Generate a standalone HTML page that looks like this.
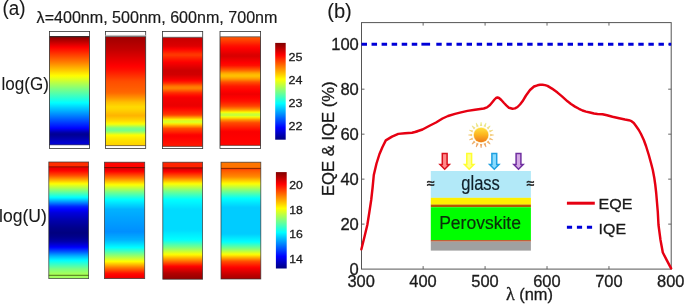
<!DOCTYPE html>
<html lang="en">
<head>
<meta charset="utf-8">
<title>Figure: generation rate, energy density and EQE/IQE</title>
<style>
html,body{margin:0;padding:0;background:#fff;}
body{width:685px;height:304px;overflow:hidden;}
svg{display:block;font-family:"Liberation Sans",sans-serif;}
</style>
</head>
<body>
<svg width="685" height="304" viewBox="0 0 685 304">
<defs>
<linearGradient id="g0" gradientUnits="userSpaceOnUse" x1="0" y1="36.60" x2="0" y2="144.80"><stop offset="0.0000" stop-color="#8a0000"/><stop offset="0.0139" stop-color="#960000"/><stop offset="0.0278" stop-color="#a60000"/><stop offset="0.0417" stop-color="#b70000"/><stop offset="0.0556" stop-color="#c80000"/><stop offset="0.0694" stop-color="#d90000"/><stop offset="0.0833" stop-color="#ea0000"/><stop offset="0.0972" stop-color="#fb0000"/><stop offset="0.1111" stop-color="#ff0a00"/><stop offset="0.1250" stop-color="#ff1600"/><stop offset="0.1389" stop-color="#ff2300"/><stop offset="0.1528" stop-color="#ff3000"/><stop offset="0.1667" stop-color="#ff3d00"/><stop offset="0.1806" stop-color="#ff4900"/><stop offset="0.1944" stop-color="#ff5600"/><stop offset="0.2083" stop-color="#ff6300"/><stop offset="0.2222" stop-color="#ff7000"/><stop offset="0.2361" stop-color="#ff7d00"/><stop offset="0.2500" stop-color="#ff8a00"/><stop offset="0.2639" stop-color="#ff9900"/><stop offset="0.2778" stop-color="#ffa700"/><stop offset="0.2917" stop-color="#ffb500"/><stop offset="0.3056" stop-color="#ffc300"/><stop offset="0.3194" stop-color="#ffd100"/><stop offset="0.3333" stop-color="#ffe000"/><stop offset="0.3472" stop-color="#ffee00"/><stop offset="0.3611" stop-color="#fffc00"/><stop offset="0.3750" stop-color="#f3ff0c"/><stop offset="0.3889" stop-color="#e4ff1b"/><stop offset="0.4028" stop-color="#d5ff2a"/><stop offset="0.4167" stop-color="#c5ff3a"/><stop offset="0.4306" stop-color="#b6ff49"/><stop offset="0.4444" stop-color="#a7ff58"/><stop offset="0.4583" stop-color="#98ff67"/><stop offset="0.4722" stop-color="#89ff76"/><stop offset="0.4861" stop-color="#7aff85"/><stop offset="0.5000" stop-color="#6dff92"/><stop offset="0.5139" stop-color="#5fffa0"/><stop offset="0.5278" stop-color="#52ffad"/><stop offset="0.5417" stop-color="#44ffbb"/><stop offset="0.5556" stop-color="#37ffc8"/><stop offset="0.5694" stop-color="#29ffd6"/><stop offset="0.5833" stop-color="#1cffe3"/><stop offset="0.5972" stop-color="#0efff1"/><stop offset="0.6111" stop-color="#01fffe"/><stop offset="0.6250" stop-color="#00f1ff"/><stop offset="0.6389" stop-color="#00e2ff"/><stop offset="0.6528" stop-color="#00d3ff"/><stop offset="0.6667" stop-color="#00c4ff"/><stop offset="0.6806" stop-color="#00b6ff"/><stop offset="0.6944" stop-color="#00a7ff"/><stop offset="0.7083" stop-color="#0098ff"/><stop offset="0.7222" stop-color="#0089ff"/><stop offset="0.7361" stop-color="#007aff"/><stop offset="0.7500" stop-color="#006bff"/><stop offset="0.7639" stop-color="#005cff"/><stop offset="0.7778" stop-color="#004dff"/><stop offset="0.7917" stop-color="#003eff"/><stop offset="0.8056" stop-color="#002fff"/><stop offset="0.8194" stop-color="#0021ff"/><stop offset="0.8333" stop-color="#0012ff"/><stop offset="0.8472" stop-color="#0002ff"/><stop offset="0.8611" stop-color="#0000e2"/><stop offset="0.8750" stop-color="#0000c1"/><stop offset="0.8889" stop-color="#0000a3"/><stop offset="0.9028" stop-color="#000095"/><stop offset="0.9167" stop-color="#00009a"/><stop offset="0.9306" stop-color="#0000a5"/><stop offset="0.9444" stop-color="#0000b1"/><stop offset="0.9583" stop-color="#0000bd"/><stop offset="0.9722" stop-color="#0000ca"/><stop offset="0.9861" stop-color="#0000d1"/><stop offset="1.0000" stop-color="#0000d6"/></linearGradient>
<linearGradient id="g1" gradientUnits="userSpaceOnUse" x1="0" y1="36.60" x2="0" y2="145.60"><stop offset="0.0000" stop-color="#9e0000"/><stop offset="0.0137" stop-color="#a30000"/><stop offset="0.0274" stop-color="#a70000"/><stop offset="0.0411" stop-color="#ab0000"/><stop offset="0.0548" stop-color="#af0000"/><stop offset="0.0685" stop-color="#b30000"/><stop offset="0.0822" stop-color="#b70000"/><stop offset="0.0959" stop-color="#bb0000"/><stop offset="0.1096" stop-color="#bf0000"/><stop offset="0.1233" stop-color="#c30000"/><stop offset="0.1370" stop-color="#c90000"/><stop offset="0.1507" stop-color="#ce0000"/><stop offset="0.1644" stop-color="#d40000"/><stop offset="0.1781" stop-color="#d90000"/><stop offset="0.1918" stop-color="#df0000"/><stop offset="0.2055" stop-color="#e40000"/><stop offset="0.2192" stop-color="#ea0000"/><stop offset="0.2329" stop-color="#f00000"/><stop offset="0.2466" stop-color="#f50000"/><stop offset="0.2603" stop-color="#fb0000"/><stop offset="0.2740" stop-color="#ff0200"/><stop offset="0.2877" stop-color="#ff0700"/><stop offset="0.3014" stop-color="#ff0d00"/><stop offset="0.3151" stop-color="#ff1500"/><stop offset="0.3288" stop-color="#ff1d00"/><stop offset="0.3425" stop-color="#ff2500"/><stop offset="0.3562" stop-color="#ff2e00"/><stop offset="0.3699" stop-color="#ff3600"/><stop offset="0.3836" stop-color="#ff3e00"/><stop offset="0.3973" stop-color="#ff4600"/><stop offset="0.4110" stop-color="#ff4d00"/><stop offset="0.4247" stop-color="#ff5000"/><stop offset="0.4384" stop-color="#ff5400"/><stop offset="0.4521" stop-color="#ff5700"/><stop offset="0.4658" stop-color="#ff5a00"/><stop offset="0.4795" stop-color="#ff5e00"/><stop offset="0.4932" stop-color="#ff6100"/><stop offset="0.5068" stop-color="#ff6500"/><stop offset="0.5205" stop-color="#ff6d00"/><stop offset="0.5342" stop-color="#ff7a00"/><stop offset="0.5479" stop-color="#ff8700"/><stop offset="0.5616" stop-color="#ff9400"/><stop offset="0.5753" stop-color="#ffa200"/><stop offset="0.5890" stop-color="#ffb100"/><stop offset="0.6027" stop-color="#ffbf00"/><stop offset="0.6164" stop-color="#ffc800"/><stop offset="0.6301" stop-color="#ffd100"/><stop offset="0.6438" stop-color="#ffda00"/><stop offset="0.6575" stop-color="#ffd700"/><stop offset="0.6712" stop-color="#ffd200"/><stop offset="0.6849" stop-color="#ffca00"/><stop offset="0.6986" stop-color="#ffc200"/><stop offset="0.7123" stop-color="#ffba00"/><stop offset="0.7260" stop-color="#ffb400"/><stop offset="0.7397" stop-color="#ffbf00"/><stop offset="0.7534" stop-color="#ffca00"/><stop offset="0.7671" stop-color="#ffd500"/><stop offset="0.7808" stop-color="#ffe400"/><stop offset="0.7945" stop-color="#fff600"/><stop offset="0.8082" stop-color="#e8ff17"/><stop offset="0.8219" stop-color="#b6ff49"/><stop offset="0.8356" stop-color="#89ff76"/><stop offset="0.8493" stop-color="#70ff8f"/><stop offset="0.8630" stop-color="#7bff84"/><stop offset="0.8767" stop-color="#a0ff5f"/><stop offset="0.8904" stop-color="#d0ff2f"/><stop offset="0.9041" stop-color="#fffe00"/><stop offset="0.9178" stop-color="#fff500"/><stop offset="0.9315" stop-color="#ffeb00"/><stop offset="0.9452" stop-color="#ffe400"/><stop offset="0.9589" stop-color="#ffdf00"/><stop offset="0.9726" stop-color="#ffda00"/><stop offset="0.9863" stop-color="#ffd600"/><stop offset="1.0000" stop-color="#ffd100"/></linearGradient>
<linearGradient id="g2" gradientUnits="userSpaceOnUse" x1="0" y1="37.30" x2="0" y2="146.40"><stop offset="0.0000" stop-color="#c70000"/><stop offset="0.0137" stop-color="#ca0000"/><stop offset="0.0274" stop-color="#ce0000"/><stop offset="0.0411" stop-color="#d20000"/><stop offset="0.0548" stop-color="#d50000"/><stop offset="0.0685" stop-color="#d90000"/><stop offset="0.0822" stop-color="#e00000"/><stop offset="0.0959" stop-color="#f10000"/><stop offset="0.1096" stop-color="#ff0200"/><stop offset="0.1233" stop-color="#ff1200"/><stop offset="0.1370" stop-color="#ff2200"/><stop offset="0.1507" stop-color="#ff3300"/><stop offset="0.1644" stop-color="#ff3900"/><stop offset="0.1781" stop-color="#ff2c00"/><stop offset="0.1918" stop-color="#ff2000"/><stop offset="0.2055" stop-color="#ff1300"/><stop offset="0.2192" stop-color="#ff0700"/><stop offset="0.2329" stop-color="#f90000"/><stop offset="0.2466" stop-color="#f10000"/><stop offset="0.2603" stop-color="#e80000"/><stop offset="0.2740" stop-color="#df0000"/><stop offset="0.2877" stop-color="#d70000"/><stop offset="0.3014" stop-color="#ce0000"/><stop offset="0.3151" stop-color="#cd0000"/><stop offset="0.3288" stop-color="#cf0000"/><stop offset="0.3425" stop-color="#d10000"/><stop offset="0.3562" stop-color="#dc0000"/><stop offset="0.3699" stop-color="#e70000"/><stop offset="0.3836" stop-color="#f30000"/><stop offset="0.3973" stop-color="#ff0500"/><stop offset="0.4110" stop-color="#ff1c00"/><stop offset="0.4247" stop-color="#ff3800"/><stop offset="0.4384" stop-color="#ff5d00"/><stop offset="0.4521" stop-color="#ff7800"/><stop offset="0.4658" stop-color="#ff8300"/><stop offset="0.4795" stop-color="#ff6c00"/><stop offset="0.4932" stop-color="#ff5000"/><stop offset="0.5068" stop-color="#ff3100"/><stop offset="0.5205" stop-color="#ff1c00"/><stop offset="0.5342" stop-color="#ff0b00"/><stop offset="0.5479" stop-color="#fa0000"/><stop offset="0.5616" stop-color="#f30000"/><stop offset="0.5753" stop-color="#f20000"/><stop offset="0.5890" stop-color="#f00000"/><stop offset="0.6027" stop-color="#ee0000"/><stop offset="0.6164" stop-color="#ec0000"/><stop offset="0.6301" stop-color="#ed0000"/><stop offset="0.6438" stop-color="#f90000"/><stop offset="0.6575" stop-color="#ff0700"/><stop offset="0.6712" stop-color="#ff1400"/><stop offset="0.6849" stop-color="#ff2100"/><stop offset="0.6986" stop-color="#ff2e00"/><stop offset="0.7123" stop-color="#ff4400"/><stop offset="0.7260" stop-color="#ff7c00"/><stop offset="0.7397" stop-color="#ffb400"/><stop offset="0.7534" stop-color="#ffee00"/><stop offset="0.7671" stop-color="#d5ff2a"/><stop offset="0.7808" stop-color="#e0ff1f"/><stop offset="0.7945" stop-color="#ffe300"/><stop offset="0.8082" stop-color="#ffae00"/><stop offset="0.8219" stop-color="#ff7e00"/><stop offset="0.8356" stop-color="#ff4e00"/><stop offset="0.8493" stop-color="#ff3b00"/><stop offset="0.8630" stop-color="#ff2a00"/><stop offset="0.8767" stop-color="#ff1800"/><stop offset="0.8904" stop-color="#ff0600"/><stop offset="0.9041" stop-color="#fb0000"/><stop offset="0.9178" stop-color="#ff0100"/><stop offset="0.9315" stop-color="#ff0500"/><stop offset="0.9452" stop-color="#ff0900"/><stop offset="0.9589" stop-color="#ff0d00"/><stop offset="0.9726" stop-color="#ff1100"/><stop offset="0.9863" stop-color="#ff1500"/><stop offset="1.0000" stop-color="#ff1a00"/></linearGradient>
<linearGradient id="g3" gradientUnits="userSpaceOnUse" x1="0" y1="36.80" x2="0" y2="145.40"><stop offset="0.0000" stop-color="#ff5700"/><stop offset="0.0139" stop-color="#ff4f00"/><stop offset="0.0278" stop-color="#ff4400"/><stop offset="0.0417" stop-color="#ff3700"/><stop offset="0.0556" stop-color="#ff2a00"/><stop offset="0.0694" stop-color="#ff1c00"/><stop offset="0.0833" stop-color="#ff0f00"/><stop offset="0.0972" stop-color="#ff0600"/><stop offset="0.1111" stop-color="#fd0000"/><stop offset="0.1250" stop-color="#f40000"/><stop offset="0.1389" stop-color="#ec0000"/><stop offset="0.1528" stop-color="#e30000"/><stop offset="0.1667" stop-color="#db0000"/><stop offset="0.1806" stop-color="#da0000"/><stop offset="0.1944" stop-color="#e30000"/><stop offset="0.2083" stop-color="#ec0000"/><stop offset="0.2222" stop-color="#f40000"/><stop offset="0.2361" stop-color="#fd0000"/><stop offset="0.2500" stop-color="#ff0600"/><stop offset="0.2639" stop-color="#ff0f00"/><stop offset="0.2778" stop-color="#ff2800"/><stop offset="0.2917" stop-color="#ff4200"/><stop offset="0.3056" stop-color="#ff5c00"/><stop offset="0.3194" stop-color="#ff7f00"/><stop offset="0.3333" stop-color="#ffa300"/><stop offset="0.3472" stop-color="#ffb800"/><stop offset="0.3611" stop-color="#ffc200"/><stop offset="0.3750" stop-color="#ffaf00"/><stop offset="0.3889" stop-color="#ff9700"/><stop offset="0.4028" stop-color="#ff7400"/><stop offset="0.4167" stop-color="#ff5100"/><stop offset="0.4306" stop-color="#ff3c00"/><stop offset="0.4444" stop-color="#ff2700"/><stop offset="0.4583" stop-color="#ff1700"/><stop offset="0.4722" stop-color="#ff0f00"/><stop offset="0.4861" stop-color="#ff0700"/><stop offset="0.5000" stop-color="#fe0000"/><stop offset="0.5139" stop-color="#f70000"/><stop offset="0.5278" stop-color="#f00000"/><stop offset="0.5417" stop-color="#f70000"/><stop offset="0.5556" stop-color="#fd0000"/><stop offset="0.5694" stop-color="#ff0500"/><stop offset="0.5833" stop-color="#ff0c00"/><stop offset="0.5972" stop-color="#ff1600"/><stop offset="0.6111" stop-color="#ff2500"/><stop offset="0.6250" stop-color="#ff3500"/><stop offset="0.6389" stop-color="#ff4700"/><stop offset="0.6528" stop-color="#ff6900"/><stop offset="0.6667" stop-color="#ff8c00"/><stop offset="0.6806" stop-color="#ffbb00"/><stop offset="0.6944" stop-color="#fff900"/><stop offset="0.7083" stop-color="#cfff30"/><stop offset="0.7222" stop-color="#bfff40"/><stop offset="0.7361" stop-color="#f1ff0e"/><stop offset="0.7500" stop-color="#ffd100"/><stop offset="0.7639" stop-color="#ff9700"/><stop offset="0.7778" stop-color="#ff7000"/><stop offset="0.7917" stop-color="#ff4b00"/><stop offset="0.8056" stop-color="#ff3d00"/><stop offset="0.8194" stop-color="#ff2f00"/><stop offset="0.8333" stop-color="#ff2100"/><stop offset="0.8472" stop-color="#ff1400"/><stop offset="0.8611" stop-color="#ff0600"/><stop offset="0.8750" stop-color="#fa0000"/><stop offset="0.8889" stop-color="#fb0000"/><stop offset="0.9028" stop-color="#fc0000"/><stop offset="0.9167" stop-color="#fd0000"/><stop offset="0.9306" stop-color="#ff0000"/><stop offset="0.9444" stop-color="#ff0100"/><stop offset="0.9583" stop-color="#ff0200"/><stop offset="0.9722" stop-color="#ff0300"/><stop offset="0.9861" stop-color="#ff0400"/><stop offset="1.0000" stop-color="#ff0500"/></linearGradient>
<linearGradient id="u0" gradientUnits="userSpaceOnUse" x1="0" y1="162.00" x2="0" y2="278.60"><stop offset="0.0000" stop-color="#ff2e00"/><stop offset="0.0085" stop-color="#ff2e00"/><stop offset="0.0171" stop-color="#ff2e00"/><stop offset="0.0256" stop-color="#ff2e00"/><stop offset="0.0342" stop-color="#ff2e00"/><stop offset="0.0427" stop-color="#ff0b00"/><stop offset="0.0513" stop-color="#e90000"/><stop offset="0.0598" stop-color="#f00000"/><stop offset="0.0684" stop-color="#f80000"/><stop offset="0.0769" stop-color="#ff0500"/><stop offset="0.0855" stop-color="#ff1500"/><stop offset="0.0940" stop-color="#ff2500"/><stop offset="0.1026" stop-color="#ff3400"/><stop offset="0.1111" stop-color="#ff4400"/><stop offset="0.1197" stop-color="#ff5600"/><stop offset="0.1282" stop-color="#ff6c00"/><stop offset="0.1368" stop-color="#ff8200"/><stop offset="0.1453" stop-color="#ff9700"/><stop offset="0.1538" stop-color="#ffad00"/><stop offset="0.1624" stop-color="#ffc300"/><stop offset="0.1709" stop-color="#ffd900"/><stop offset="0.1795" stop-color="#ffee00"/><stop offset="0.1880" stop-color="#fbff04"/><stop offset="0.1966" stop-color="#e8ff17"/><stop offset="0.2051" stop-color="#d6ff29"/><stop offset="0.2137" stop-color="#c4ff3b"/><stop offset="0.2222" stop-color="#b1ff4e"/><stop offset="0.2308" stop-color="#9fff60"/><stop offset="0.2393" stop-color="#8cff73"/><stop offset="0.2479" stop-color="#7aff85"/><stop offset="0.2564" stop-color="#68ff97"/><stop offset="0.2650" stop-color="#55ffaa"/><stop offset="0.2735" stop-color="#43ffbc"/><stop offset="0.2821" stop-color="#30ffcf"/><stop offset="0.2906" stop-color="#1effe1"/><stop offset="0.2991" stop-color="#0bfff4"/><stop offset="0.3077" stop-color="#00f6ff"/><stop offset="0.3162" stop-color="#00deff"/><stop offset="0.3248" stop-color="#00c7ff"/><stop offset="0.3333" stop-color="#00afff"/><stop offset="0.3419" stop-color="#0097ff"/><stop offset="0.3504" stop-color="#007eff"/><stop offset="0.3590" stop-color="#0066ff"/><stop offset="0.3675" stop-color="#004dff"/><stop offset="0.3761" stop-color="#0034ff"/><stop offset="0.3846" stop-color="#0020ff"/><stop offset="0.3932" stop-color="#0014ff"/><stop offset="0.4017" stop-color="#0009ff"/><stop offset="0.4103" stop-color="#0000fd"/><stop offset="0.4188" stop-color="#0000f2"/><stop offset="0.4274" stop-color="#0000e6"/><stop offset="0.4359" stop-color="#0000db"/><stop offset="0.4444" stop-color="#0000d5"/><stop offset="0.4530" stop-color="#0000cf"/><stop offset="0.4615" stop-color="#0000c9"/><stop offset="0.4701" stop-color="#0000c3"/><stop offset="0.4786" stop-color="#0000bd"/><stop offset="0.4872" stop-color="#0000b7"/><stop offset="0.4957" stop-color="#0000b1"/><stop offset="0.5043" stop-color="#0000ab"/><stop offset="0.5128" stop-color="#0000a6"/><stop offset="0.5214" stop-color="#0000a2"/><stop offset="0.5299" stop-color="#00009e"/><stop offset="0.5385" stop-color="#000099"/><stop offset="0.5470" stop-color="#000095"/><stop offset="0.5556" stop-color="#000091"/><stop offset="0.5641" stop-color="#00008d"/><stop offset="0.5726" stop-color="#00008a"/><stop offset="0.5812" stop-color="#000087"/><stop offset="0.5897" stop-color="#000085"/><stop offset="0.5983" stop-color="#000082"/><stop offset="0.6068" stop-color="#000080"/><stop offset="0.6154" stop-color="#000082"/><stop offset="0.6239" stop-color="#000085"/><stop offset="0.6325" stop-color="#000088"/><stop offset="0.6410" stop-color="#00008b"/><stop offset="0.6496" stop-color="#000091"/><stop offset="0.6581" stop-color="#000097"/><stop offset="0.6667" stop-color="#00009e"/><stop offset="0.6752" stop-color="#0000a5"/><stop offset="0.6838" stop-color="#0000ae"/><stop offset="0.6923" stop-color="#0000bc"/><stop offset="0.7009" stop-color="#0000ca"/><stop offset="0.7094" stop-color="#0000d7"/><stop offset="0.7179" stop-color="#0000e5"/><stop offset="0.7265" stop-color="#0000f4"/><stop offset="0.7350" stop-color="#0008ff"/><stop offset="0.7436" stop-color="#001bff"/><stop offset="0.7521" stop-color="#002eff"/><stop offset="0.7607" stop-color="#0041ff"/><stop offset="0.7692" stop-color="#0055ff"/><stop offset="0.7778" stop-color="#006aff"/><stop offset="0.7863" stop-color="#0080ff"/><stop offset="0.7949" stop-color="#0096ff"/><stop offset="0.8034" stop-color="#00abff"/><stop offset="0.8120" stop-color="#00beff"/><stop offset="0.8205" stop-color="#00cfff"/><stop offset="0.8291" stop-color="#00e0ff"/><stop offset="0.8376" stop-color="#00f1ff"/><stop offset="0.8462" stop-color="#02fffd"/><stop offset="0.8547" stop-color="#11ffee"/><stop offset="0.8632" stop-color="#1fffe0"/><stop offset="0.8718" stop-color="#2effd1"/><stop offset="0.8803" stop-color="#3cffc3"/><stop offset="0.8889" stop-color="#4bffb4"/><stop offset="0.8974" stop-color="#59ffa6"/><stop offset="0.9060" stop-color="#67ff98"/><stop offset="0.9145" stop-color="#76ff89"/><stop offset="0.9231" stop-color="#82ff7d"/><stop offset="0.9316" stop-color="#8aff75"/><stop offset="0.9402" stop-color="#92ff6d"/><stop offset="0.9487" stop-color="#9bff64"/><stop offset="0.9573" stop-color="#a3ff5c"/><stop offset="0.9658" stop-color="#a8ff57"/><stop offset="0.9744" stop-color="#a5ff5a"/><stop offset="0.9829" stop-color="#a3ff5c"/><stop offset="0.9915" stop-color="#a0ff5f"/><stop offset="1.0000" stop-color="#9eff61"/></linearGradient>
<linearGradient id="u1" gradientUnits="userSpaceOnUse" x1="0" y1="162.20" x2="0" y2="278.60"><stop offset="0.0000" stop-color="#ff0500"/><stop offset="0.0086" stop-color="#ff0500"/><stop offset="0.0172" stop-color="#ff0500"/><stop offset="0.0259" stop-color="#ff0500"/><stop offset="0.0345" stop-color="#ff0500"/><stop offset="0.0431" stop-color="#f90000"/><stop offset="0.0517" stop-color="#d40000"/><stop offset="0.0603" stop-color="#e20000"/><stop offset="0.0690" stop-color="#f00000"/><stop offset="0.0776" stop-color="#fe0000"/><stop offset="0.0862" stop-color="#ff1100"/><stop offset="0.0948" stop-color="#ff2300"/><stop offset="0.1034" stop-color="#ff3500"/><stop offset="0.1121" stop-color="#ff4700"/><stop offset="0.1207" stop-color="#ff5900"/><stop offset="0.1293" stop-color="#ff6b00"/><stop offset="0.1379" stop-color="#ff7d00"/><stop offset="0.1466" stop-color="#ff9100"/><stop offset="0.1552" stop-color="#ffa500"/><stop offset="0.1638" stop-color="#ffb900"/><stop offset="0.1724" stop-color="#ffce00"/><stop offset="0.1810" stop-color="#ffe200"/><stop offset="0.1897" stop-color="#fff600"/><stop offset="0.1983" stop-color="#f4ff0b"/><stop offset="0.2069" stop-color="#e2ff1d"/><stop offset="0.2155" stop-color="#cfff30"/><stop offset="0.2241" stop-color="#bdff42"/><stop offset="0.2328" stop-color="#aaff55"/><stop offset="0.2414" stop-color="#98ff67"/><stop offset="0.2500" stop-color="#85ff7a"/><stop offset="0.2586" stop-color="#74ff8b"/><stop offset="0.2672" stop-color="#64ff9b"/><stop offset="0.2759" stop-color="#54ffab"/><stop offset="0.2845" stop-color="#44ffbb"/><stop offset="0.2931" stop-color="#33ffcc"/><stop offset="0.3017" stop-color="#23ffdc"/><stop offset="0.3103" stop-color="#13ffec"/><stop offset="0.3190" stop-color="#03fffc"/><stop offset="0.3276" stop-color="#00f9ff"/><stop offset="0.3362" stop-color="#00f1ff"/><stop offset="0.3448" stop-color="#00e9ff"/><stop offset="0.3534" stop-color="#00e1ff"/><stop offset="0.3621" stop-color="#00d9ff"/><stop offset="0.3707" stop-color="#00d1ff"/><stop offset="0.3793" stop-color="#00caff"/><stop offset="0.3879" stop-color="#00c2ff"/><stop offset="0.3966" stop-color="#00baff"/><stop offset="0.4052" stop-color="#00b2ff"/><stop offset="0.4138" stop-color="#00b1ff"/><stop offset="0.4224" stop-color="#00afff"/><stop offset="0.4310" stop-color="#00adff"/><stop offset="0.4397" stop-color="#00abff"/><stop offset="0.4483" stop-color="#00aaff"/><stop offset="0.4569" stop-color="#00a8ff"/><stop offset="0.4655" stop-color="#00a6ff"/><stop offset="0.4741" stop-color="#00a4ff"/><stop offset="0.4828" stop-color="#00a3ff"/><stop offset="0.4914" stop-color="#00a1ff"/><stop offset="0.5000" stop-color="#00a0ff"/><stop offset="0.5086" stop-color="#009eff"/><stop offset="0.5172" stop-color="#009dff"/><stop offset="0.5259" stop-color="#009bff"/><stop offset="0.5345" stop-color="#009aff"/><stop offset="0.5431" stop-color="#0098ff"/><stop offset="0.5517" stop-color="#0097ff"/><stop offset="0.5603" stop-color="#0095ff"/><stop offset="0.5690" stop-color="#0094ff"/><stop offset="0.5776" stop-color="#0092ff"/><stop offset="0.5862" stop-color="#0091ff"/><stop offset="0.5948" stop-color="#008fff"/><stop offset="0.6034" stop-color="#0092ff"/><stop offset="0.6121" stop-color="#0096ff"/><stop offset="0.6207" stop-color="#009bff"/><stop offset="0.6293" stop-color="#009fff"/><stop offset="0.6379" stop-color="#00a4ff"/><stop offset="0.6466" stop-color="#00a8ff"/><stop offset="0.6552" stop-color="#00adff"/><stop offset="0.6638" stop-color="#00b1ff"/><stop offset="0.6724" stop-color="#00baff"/><stop offset="0.6810" stop-color="#00c4ff"/><stop offset="0.6897" stop-color="#00cdff"/><stop offset="0.6983" stop-color="#00d7ff"/><stop offset="0.7069" stop-color="#00e1ff"/><stop offset="0.7155" stop-color="#00ebff"/><stop offset="0.7241" stop-color="#00f4ff"/><stop offset="0.7328" stop-color="#00feff"/><stop offset="0.7414" stop-color="#11ffee"/><stop offset="0.7500" stop-color="#23ffdc"/><stop offset="0.7586" stop-color="#36ffc9"/><stop offset="0.7672" stop-color="#48ffb7"/><stop offset="0.7759" stop-color="#5bffa4"/><stop offset="0.7845" stop-color="#6dff92"/><stop offset="0.7931" stop-color="#80ff7f"/><stop offset="0.8017" stop-color="#92ff6d"/><stop offset="0.8103" stop-color="#a5ff5a"/><stop offset="0.8190" stop-color="#b7ff48"/><stop offset="0.8276" stop-color="#caff35"/><stop offset="0.8362" stop-color="#ddff22"/><stop offset="0.8448" stop-color="#efff10"/><stop offset="0.8534" stop-color="#fffc00"/><stop offset="0.8621" stop-color="#ffe700"/><stop offset="0.8707" stop-color="#ffd100"/><stop offset="0.8793" stop-color="#ffbc00"/><stop offset="0.8879" stop-color="#ffa700"/><stop offset="0.8966" stop-color="#ff9100"/><stop offset="0.9052" stop-color="#ff7c00"/><stop offset="0.9138" stop-color="#ff6900"/><stop offset="0.9224" stop-color="#ff5600"/><stop offset="0.9310" stop-color="#ff4300"/><stop offset="0.9397" stop-color="#ff3000"/><stop offset="0.9483" stop-color="#ff1d00"/><stop offset="0.9569" stop-color="#ff0d00"/><stop offset="0.9655" stop-color="#ff0500"/><stop offset="0.9741" stop-color="#fd0000"/><stop offset="0.9828" stop-color="#f50000"/><stop offset="0.9914" stop-color="#ed0000"/><stop offset="1.0000" stop-color="#e50000"/></linearGradient>
<linearGradient id="u2" gradientUnits="userSpaceOnUse" x1="0" y1="162.20" x2="0" y2="279.20"><stop offset="0.0000" stop-color="#ff2400"/><stop offset="0.0085" stop-color="#ff2400"/><stop offset="0.0171" stop-color="#ff2400"/><stop offset="0.0256" stop-color="#ff2400"/><stop offset="0.0342" stop-color="#ff2400"/><stop offset="0.0427" stop-color="#ff2400"/><stop offset="0.0513" stop-color="#e10000"/><stop offset="0.0598" stop-color="#dc0000"/><stop offset="0.0684" stop-color="#ea0000"/><stop offset="0.0769" stop-color="#f80000"/><stop offset="0.0855" stop-color="#ff0b00"/><stop offset="0.0940" stop-color="#ff1e00"/><stop offset="0.1026" stop-color="#ff3000"/><stop offset="0.1111" stop-color="#ff4300"/><stop offset="0.1197" stop-color="#ff5500"/><stop offset="0.1282" stop-color="#ff6700"/><stop offset="0.1368" stop-color="#ff7e00"/><stop offset="0.1453" stop-color="#ff9500"/><stop offset="0.1538" stop-color="#ffad00"/><stop offset="0.1624" stop-color="#ffc400"/><stop offset="0.1709" stop-color="#ffdc00"/><stop offset="0.1795" stop-color="#fff300"/><stop offset="0.1880" stop-color="#f6ff09"/><stop offset="0.1966" stop-color="#e3ff1c"/><stop offset="0.2051" stop-color="#d1ff2e"/><stop offset="0.2137" stop-color="#beff41"/><stop offset="0.2222" stop-color="#acff53"/><stop offset="0.2308" stop-color="#99ff66"/><stop offset="0.2393" stop-color="#87ff78"/><stop offset="0.2479" stop-color="#77ff88"/><stop offset="0.2564" stop-color="#69ff96"/><stop offset="0.2650" stop-color="#5affa5"/><stop offset="0.2735" stop-color="#4cffb3"/><stop offset="0.2821" stop-color="#3effc1"/><stop offset="0.2906" stop-color="#2fffd0"/><stop offset="0.2991" stop-color="#21ffde"/><stop offset="0.3077" stop-color="#13ffec"/><stop offset="0.3162" stop-color="#04fffb"/><stop offset="0.3248" stop-color="#00fcff"/><stop offset="0.3333" stop-color="#00f9ff"/><stop offset="0.3419" stop-color="#00f5ff"/><stop offset="0.3504" stop-color="#00f2ff"/><stop offset="0.3590" stop-color="#00eeff"/><stop offset="0.3675" stop-color="#00eaff"/><stop offset="0.3761" stop-color="#00e7ff"/><stop offset="0.3846" stop-color="#00e3ff"/><stop offset="0.3932" stop-color="#00dfff"/><stop offset="0.4017" stop-color="#00dcff"/><stop offset="0.4103" stop-color="#00dbff"/><stop offset="0.4188" stop-color="#00dbff"/><stop offset="0.4274" stop-color="#00dbff"/><stop offset="0.4359" stop-color="#00dbff"/><stop offset="0.4444" stop-color="#00dbff"/><stop offset="0.4530" stop-color="#00dbff"/><stop offset="0.4615" stop-color="#00dbff"/><stop offset="0.4701" stop-color="#00dbff"/><stop offset="0.4786" stop-color="#00dbff"/><stop offset="0.4872" stop-color="#00dbff"/><stop offset="0.4957" stop-color="#00dbff"/><stop offset="0.5043" stop-color="#00dbff"/><stop offset="0.5128" stop-color="#00dbff"/><stop offset="0.5214" stop-color="#00dbff"/><stop offset="0.5299" stop-color="#00dbff"/><stop offset="0.5385" stop-color="#00dbff"/><stop offset="0.5470" stop-color="#00dbff"/><stop offset="0.5556" stop-color="#00dbff"/><stop offset="0.5641" stop-color="#00dbff"/><stop offset="0.5726" stop-color="#00dbff"/><stop offset="0.5812" stop-color="#00ddff"/><stop offset="0.5897" stop-color="#00e0ff"/><stop offset="0.5983" stop-color="#00e4ff"/><stop offset="0.6068" stop-color="#00e8ff"/><stop offset="0.6154" stop-color="#00ebff"/><stop offset="0.6239" stop-color="#00efff"/><stop offset="0.6325" stop-color="#00f2ff"/><stop offset="0.6410" stop-color="#00f6ff"/><stop offset="0.6496" stop-color="#00faff"/><stop offset="0.6581" stop-color="#00fdff"/><stop offset="0.6667" stop-color="#08fff7"/><stop offset="0.6752" stop-color="#18ffe7"/><stop offset="0.6838" stop-color="#28ffd7"/><stop offset="0.6923" stop-color="#38ffc7"/><stop offset="0.7009" stop-color="#49ffb6"/><stop offset="0.7094" stop-color="#59ffa6"/><stop offset="0.7179" stop-color="#69ff96"/><stop offset="0.7265" stop-color="#79ff86"/><stop offset="0.7350" stop-color="#8bff74"/><stop offset="0.7436" stop-color="#9dff62"/><stop offset="0.7521" stop-color="#b0ff4f"/><stop offset="0.7607" stop-color="#c2ff3d"/><stop offset="0.7692" stop-color="#d4ff2b"/><stop offset="0.7778" stop-color="#e7ff18"/><stop offset="0.7863" stop-color="#f9ff06"/><stop offset="0.7949" stop-color="#fff000"/><stop offset="0.8034" stop-color="#ffdb00"/><stop offset="0.8120" stop-color="#ffc600"/><stop offset="0.8205" stop-color="#ffb000"/><stop offset="0.8291" stop-color="#ff9b00"/><stop offset="0.8376" stop-color="#ff8600"/><stop offset="0.8462" stop-color="#ff7000"/><stop offset="0.8547" stop-color="#ff5b00"/><stop offset="0.8632" stop-color="#ff4500"/><stop offset="0.8718" stop-color="#ff3000"/><stop offset="0.8803" stop-color="#ff1a00"/><stop offset="0.8889" stop-color="#ff0400"/><stop offset="0.8974" stop-color="#f60000"/><stop offset="0.9060" stop-color="#eb0000"/><stop offset="0.9145" stop-color="#e00000"/><stop offset="0.9231" stop-color="#d50000"/><stop offset="0.9316" stop-color="#ca0000"/><stop offset="0.9402" stop-color="#bf0000"/><stop offset="0.9487" stop-color="#b40000"/><stop offset="0.9573" stop-color="#ae0000"/><stop offset="0.9658" stop-color="#a90000"/><stop offset="0.9744" stop-color="#a30000"/><stop offset="0.9829" stop-color="#9e0000"/><stop offset="0.9915" stop-color="#990000"/><stop offset="1.0000" stop-color="#940000"/></linearGradient>
<linearGradient id="u3" gradientUnits="userSpaceOnUse" x1="0" y1="162.20" x2="0" y2="279.00"><stop offset="0.0000" stop-color="#ff7500"/><stop offset="0.0085" stop-color="#ff7500"/><stop offset="0.0171" stop-color="#ff7500"/><stop offset="0.0256" stop-color="#ff7500"/><stop offset="0.0342" stop-color="#ff7500"/><stop offset="0.0427" stop-color="#ff7500"/><stop offset="0.0513" stop-color="#ff6100"/><stop offset="0.0598" stop-color="#ff3d00"/><stop offset="0.0684" stop-color="#ff5600"/><stop offset="0.0769" stop-color="#ff5e00"/><stop offset="0.0855" stop-color="#ff6600"/><stop offset="0.0940" stop-color="#ff6e00"/><stop offset="0.1026" stop-color="#ff7500"/><stop offset="0.1111" stop-color="#ff7d00"/><stop offset="0.1197" stop-color="#ff8500"/><stop offset="0.1282" stop-color="#ff9000"/><stop offset="0.1368" stop-color="#ffa100"/><stop offset="0.1453" stop-color="#ffb200"/><stop offset="0.1538" stop-color="#ffc300"/><stop offset="0.1624" stop-color="#ffd400"/><stop offset="0.1709" stop-color="#ffe500"/><stop offset="0.1795" stop-color="#fff600"/><stop offset="0.1880" stop-color="#f6ff09"/><stop offset="0.1966" stop-color="#e4ff1b"/><stop offset="0.2051" stop-color="#d2ff2d"/><stop offset="0.2137" stop-color="#bfff40"/><stop offset="0.2222" stop-color="#adff52"/><stop offset="0.2308" stop-color="#9aff65"/><stop offset="0.2393" stop-color="#88ff77"/><stop offset="0.2479" stop-color="#77ff88"/><stop offset="0.2564" stop-color="#67ff98"/><stop offset="0.2650" stop-color="#56ffa9"/><stop offset="0.2735" stop-color="#46ffb9"/><stop offset="0.2821" stop-color="#36ffc9"/><stop offset="0.2906" stop-color="#26ffd9"/><stop offset="0.2991" stop-color="#16ffe9"/><stop offset="0.3077" stop-color="#06fff9"/><stop offset="0.3162" stop-color="#00fbff"/><stop offset="0.3248" stop-color="#00f6ff"/><stop offset="0.3333" stop-color="#00f0ff"/><stop offset="0.3419" stop-color="#00eaff"/><stop offset="0.3504" stop-color="#00e4ff"/><stop offset="0.3590" stop-color="#00dfff"/><stop offset="0.3675" stop-color="#00d9ff"/><stop offset="0.3761" stop-color="#00d3ff"/><stop offset="0.3846" stop-color="#00ceff"/><stop offset="0.3932" stop-color="#00ccff"/><stop offset="0.4017" stop-color="#00ccff"/><stop offset="0.4103" stop-color="#00ccff"/><stop offset="0.4188" stop-color="#00ccff"/><stop offset="0.4274" stop-color="#00ccff"/><stop offset="0.4359" stop-color="#00ccff"/><stop offset="0.4444" stop-color="#00ccff"/><stop offset="0.4530" stop-color="#00ccff"/><stop offset="0.4615" stop-color="#00ccff"/><stop offset="0.4701" stop-color="#00ccff"/><stop offset="0.4786" stop-color="#00ccff"/><stop offset="0.4872" stop-color="#00ccff"/><stop offset="0.4957" stop-color="#00ccff"/><stop offset="0.5043" stop-color="#00ccff"/><stop offset="0.5128" stop-color="#00ccff"/><stop offset="0.5214" stop-color="#00ccff"/><stop offset="0.5299" stop-color="#00ccff"/><stop offset="0.5385" stop-color="#00ccff"/><stop offset="0.5470" stop-color="#00ccff"/><stop offset="0.5556" stop-color="#00ccff"/><stop offset="0.5641" stop-color="#00ccff"/><stop offset="0.5726" stop-color="#00ccff"/><stop offset="0.5812" stop-color="#00ccff"/><stop offset="0.5897" stop-color="#00ccff"/><stop offset="0.5983" stop-color="#00ccff"/><stop offset="0.6068" stop-color="#00ccff"/><stop offset="0.6154" stop-color="#00ceff"/><stop offset="0.6239" stop-color="#00d4ff"/><stop offset="0.6325" stop-color="#00dbff"/><stop offset="0.6410" stop-color="#00e1ff"/><stop offset="0.6496" stop-color="#00e8ff"/><stop offset="0.6581" stop-color="#00eeff"/><stop offset="0.6667" stop-color="#00f4ff"/><stop offset="0.6752" stop-color="#00fbff"/><stop offset="0.6838" stop-color="#07fff8"/><stop offset="0.6923" stop-color="#19ffe6"/><stop offset="0.7009" stop-color="#2cffd3"/><stop offset="0.7094" stop-color="#3effc1"/><stop offset="0.7179" stop-color="#50ffaf"/><stop offset="0.7265" stop-color="#63ff9c"/><stop offset="0.7350" stop-color="#75ff8a"/><stop offset="0.7436" stop-color="#89ff76"/><stop offset="0.7521" stop-color="#9fff60"/><stop offset="0.7607" stop-color="#b4ff4b"/><stop offset="0.7692" stop-color="#caff35"/><stop offset="0.7778" stop-color="#e0ff1f"/><stop offset="0.7863" stop-color="#f5ff0a"/><stop offset="0.7949" stop-color="#fff100"/><stop offset="0.8034" stop-color="#ffd700"/><stop offset="0.8120" stop-color="#ffbd00"/><stop offset="0.8205" stop-color="#ffa400"/><stop offset="0.8291" stop-color="#ff8a00"/><stop offset="0.8376" stop-color="#ff7000"/><stop offset="0.8462" stop-color="#ff5600"/><stop offset="0.8547" stop-color="#ff4400"/><stop offset="0.8632" stop-color="#ff3800"/><stop offset="0.8718" stop-color="#ff2b00"/><stop offset="0.8803" stop-color="#ff1e00"/><stop offset="0.8889" stop-color="#ff1200"/><stop offset="0.8974" stop-color="#ff0500"/><stop offset="0.9060" stop-color="#fa0000"/><stop offset="0.9145" stop-color="#f10000"/><stop offset="0.9231" stop-color="#e90000"/><stop offset="0.9316" stop-color="#e10000"/><stop offset="0.9402" stop-color="#d80000"/><stop offset="0.9487" stop-color="#d00000"/><stop offset="0.9573" stop-color="#c80000"/><stop offset="0.9658" stop-color="#bf0000"/><stop offset="0.9744" stop-color="#b90000"/><stop offset="0.9829" stop-color="#b30000"/><stop offset="0.9915" stop-color="#ae0000"/><stop offset="1.0000" stop-color="#a80000"/></linearGradient>
<linearGradient id="cb1" gradientUnits="userSpaceOnUse" x1="0" y1="42.90" x2="0" y2="139.70"><stop offset="0.0000" stop-color="#800000"/><stop offset="0.0208" stop-color="#950000"/><stop offset="0.0417" stop-color="#aa0000"/><stop offset="0.0625" stop-color="#bf0000"/><stop offset="0.0833" stop-color="#d40000"/><stop offset="0.1042" stop-color="#ea0000"/><stop offset="0.1250" stop-color="#ff0000"/><stop offset="0.1458" stop-color="#ff1500"/><stop offset="0.1667" stop-color="#ff2b00"/><stop offset="0.1875" stop-color="#ff4000"/><stop offset="0.2083" stop-color="#ff5500"/><stop offset="0.2292" stop-color="#ff6a00"/><stop offset="0.2500" stop-color="#ff8000"/><stop offset="0.2708" stop-color="#ff9500"/><stop offset="0.2917" stop-color="#ffaa00"/><stop offset="0.3125" stop-color="#ffbf00"/><stop offset="0.3333" stop-color="#ffd400"/><stop offset="0.3542" stop-color="#ffea00"/><stop offset="0.3750" stop-color="#ffff00"/><stop offset="0.3958" stop-color="#eaff15"/><stop offset="0.4167" stop-color="#d5ff2a"/><stop offset="0.4375" stop-color="#bfff40"/><stop offset="0.4583" stop-color="#aaff55"/><stop offset="0.4792" stop-color="#95ff6a"/><stop offset="0.5000" stop-color="#7fff80"/><stop offset="0.5208" stop-color="#6aff95"/><stop offset="0.5417" stop-color="#55ffaa"/><stop offset="0.5625" stop-color="#40ffbf"/><stop offset="0.5833" stop-color="#2affd5"/><stop offset="0.6042" stop-color="#15ffea"/><stop offset="0.6250" stop-color="#00ffff"/><stop offset="0.6458" stop-color="#00eaff"/><stop offset="0.6667" stop-color="#00d5ff"/><stop offset="0.6875" stop-color="#00bfff"/><stop offset="0.7083" stop-color="#00aaff"/><stop offset="0.7292" stop-color="#0095ff"/><stop offset="0.7500" stop-color="#0080ff"/><stop offset="0.7708" stop-color="#006aff"/><stop offset="0.7917" stop-color="#0055ff"/><stop offset="0.8125" stop-color="#0040ff"/><stop offset="0.8333" stop-color="#002bff"/><stop offset="0.8542" stop-color="#0015ff"/><stop offset="0.8750" stop-color="#0000ff"/><stop offset="0.8958" stop-color="#0000ea"/><stop offset="0.9167" stop-color="#0000d5"/><stop offset="0.9375" stop-color="#0000bf"/><stop offset="0.9583" stop-color="#0000aa"/><stop offset="0.9792" stop-color="#000095"/><stop offset="1.0000" stop-color="#000080"/></linearGradient>
<linearGradient id="cb2" gradientUnits="userSpaceOnUse" x1="0" y1="172.10" x2="0" y2="268.50"><stop offset="0.0000" stop-color="#800000"/><stop offset="0.0208" stop-color="#950000"/><stop offset="0.0417" stop-color="#aa0000"/><stop offset="0.0625" stop-color="#bf0000"/><stop offset="0.0833" stop-color="#d40000"/><stop offset="0.1042" stop-color="#ea0000"/><stop offset="0.1250" stop-color="#ff0000"/><stop offset="0.1458" stop-color="#ff1500"/><stop offset="0.1667" stop-color="#ff2a00"/><stop offset="0.1875" stop-color="#ff4000"/><stop offset="0.2083" stop-color="#ff5500"/><stop offset="0.2292" stop-color="#ff6a00"/><stop offset="0.2500" stop-color="#ff8000"/><stop offset="0.2708" stop-color="#ff9500"/><stop offset="0.2917" stop-color="#ffaa00"/><stop offset="0.3125" stop-color="#ffbf00"/><stop offset="0.3333" stop-color="#ffd400"/><stop offset="0.3542" stop-color="#ffea00"/><stop offset="0.3750" stop-color="#ffff00"/><stop offset="0.3958" stop-color="#eaff15"/><stop offset="0.4167" stop-color="#d5ff2a"/><stop offset="0.4375" stop-color="#bfff40"/><stop offset="0.4583" stop-color="#aaff55"/><stop offset="0.4792" stop-color="#95ff6a"/><stop offset="0.5000" stop-color="#7fff80"/><stop offset="0.5208" stop-color="#6aff95"/><stop offset="0.5417" stop-color="#55ffaa"/><stop offset="0.5625" stop-color="#40ffbf"/><stop offset="0.5833" stop-color="#2affd5"/><stop offset="0.6042" stop-color="#15ffea"/><stop offset="0.6250" stop-color="#00ffff"/><stop offset="0.6458" stop-color="#00eaff"/><stop offset="0.6667" stop-color="#00d4ff"/><stop offset="0.6875" stop-color="#00bfff"/><stop offset="0.7083" stop-color="#00aaff"/><stop offset="0.7292" stop-color="#0095ff"/><stop offset="0.7500" stop-color="#0080ff"/><stop offset="0.7708" stop-color="#006aff"/><stop offset="0.7917" stop-color="#0055ff"/><stop offset="0.8125" stop-color="#0040ff"/><stop offset="0.8333" stop-color="#002aff"/><stop offset="0.8542" stop-color="#0015ff"/><stop offset="0.8750" stop-color="#0000ff"/><stop offset="0.8958" stop-color="#0000ea"/><stop offset="0.9167" stop-color="#0000d4"/><stop offset="0.9375" stop-color="#0000bf"/><stop offset="0.9583" stop-color="#0000aa"/><stop offset="0.9792" stop-color="#000095"/><stop offset="1.0000" stop-color="#000080"/></linearGradient>
<linearGradient id="sun" x1="0" y1="0" x2="0" y2="1"><stop offset="0" stop-color="#ffe040"/><stop offset="0.45" stop-color="#fdb820"/><stop offset="1" stop-color="#ee7a1c"/></linearGradient>
<linearGradient id="ray" gradientUnits="userSpaceOnUse" x1="0" y1="122.5" x2="0" y2="147.5"><stop offset="0" stop-color="#e6ea7a"/><stop offset="0.5" stop-color="#f2c464"/><stop offset="1" stop-color="#e88c44"/></linearGradient>
</defs>
<rect width="685" height="304" fill="#fff"/>
<rect x="49.40" y="31.50" width="40.20" height="116.90" fill="#fff"/>
<rect x="49.40" y="36.60" width="40.20" height="108.20" fill="url(#g0)"/>
<rect x="49.40" y="31.50" width="40.20" height="116.90" fill="none" stroke="#333" stroke-width="0.8"/>
<line x1="49.40" y1="36.60" x2="89.60" y2="36.60" stroke="#3a2a2a" stroke-width="1.10"/>
<line x1="49.40" y1="144.80" x2="89.60" y2="144.80" stroke="#000040" stroke-opacity="0.75" stroke-width="0.8"/>
<rect x="105.50" y="31.50" width="40.20" height="116.90" fill="#fff"/>
<rect x="105.50" y="36.60" width="40.20" height="109.00" fill="url(#g1)"/>
<rect x="105.50" y="31.50" width="40.20" height="116.90" fill="none" stroke="#333" stroke-width="0.8"/>
<rect x="105.50" y="34.90" width="40.20" height="1.70" fill="#c4c0c0"/>
<line x1="105.50" y1="36.60" x2="145.70" y2="36.60" stroke="#555" stroke-width="0.80"/>
<line x1="105.50" y1="145.60" x2="145.70" y2="145.60" stroke="#3a2010" stroke-opacity="0.75" stroke-width="0.8"/>
<rect x="162.40" y="31.50" width="40.30" height="117.10" fill="#fff"/>
<rect x="162.40" y="37.30" width="40.30" height="109.10" fill="url(#g2)"/>
<rect x="162.40" y="31.50" width="40.30" height="117.10" fill="none" stroke="#333" stroke-width="0.8"/>
<line x1="162.40" y1="37.30" x2="202.70" y2="37.30" stroke="#555" stroke-width="0.80"/>
<line x1="162.40" y1="146.40" x2="202.70" y2="146.40" stroke="#3a2010" stroke-opacity="0.75" stroke-width="0.8"/>
<rect x="220.00" y="31.50" width="40.60" height="116.90" fill="#fff"/>
<rect x="220.00" y="36.80" width="40.60" height="108.60" fill="url(#g3)"/>
<rect x="220.00" y="31.50" width="40.60" height="116.90" fill="none" stroke="#333" stroke-width="0.8"/>
<line x1="220.00" y1="36.80" x2="260.60" y2="36.80" stroke="#555" stroke-width="0.80"/>
<line x1="220.00" y1="145.40" x2="260.60" y2="145.40" stroke="#3a2010" stroke-opacity="0.75" stroke-width="0.8"/>
<rect x="48.80" y="162.00" width="39.80" height="116.60" fill="url(#u0)" stroke="#333" stroke-opacity="0.85" stroke-width="0.8"/>
<line x1="48.80" y1="166.90" x2="88.60" y2="166.90" stroke="#401000" stroke-opacity="0.7" stroke-width="0.9"/>
<line x1="48.80" y1="275.30" x2="88.60" y2="275.30" stroke="#304000" stroke-opacity="0.8" stroke-width="0.9"/>
<rect x="104.40" y="162.20" width="40.30" height="116.40" fill="url(#u1)" stroke="#333" stroke-opacity="0.85" stroke-width="0.8"/>
<line x1="104.40" y1="167.50" x2="144.70" y2="167.50" stroke="#401000" stroke-opacity="0.7" stroke-width="0.9"/>
<rect x="162.80" y="162.20" width="39.80" height="117.00" fill="url(#u2)" stroke="#333" stroke-opacity="0.85" stroke-width="0.8"/>
<line x1="162.80" y1="167.90" x2="202.60" y2="167.90" stroke="#401000" stroke-opacity="0.7" stroke-width="0.9"/>
<rect x="221.00" y="162.20" width="39.80" height="116.80" fill="url(#u3)" stroke="#333" stroke-opacity="0.85" stroke-width="0.8"/>
<line x1="221.00" y1="168.40" x2="260.80" y2="168.40" stroke="#401000" stroke-opacity="0.7" stroke-width="0.9"/>
<rect x="275.2" y="42.9" width="10.5" height="96.8" fill="url(#cb1)"/>
<rect x="275.9" y="172.1" width="10.8" height="96.4" fill="url(#cb2)"/>
<text x="288.60" y="61.20" font-size="11.60" text-anchor="start" fill="#1a1a1a" textLength="13.90" lengthAdjust="spacingAndGlyphs" stroke="#1a1a1a" stroke-width="0.30">25</text>
<text x="288.60" y="84.20" font-size="11.60" text-anchor="start" fill="#1a1a1a" textLength="13.90" lengthAdjust="spacingAndGlyphs" stroke="#1a1a1a" stroke-width="0.30">24</text>
<text x="288.60" y="107.10" font-size="11.60" text-anchor="start" fill="#1a1a1a" textLength="13.90" lengthAdjust="spacingAndGlyphs" stroke="#1a1a1a" stroke-width="0.30">23</text>
<text x="288.60" y="130.00" font-size="11.60" text-anchor="start" fill="#1a1a1a" textLength="13.90" lengthAdjust="spacingAndGlyphs" stroke="#1a1a1a" stroke-width="0.30">22</text>
<text x="289.20" y="189.10" font-size="11.60" text-anchor="start" fill="#1a1a1a" textLength="13.60" lengthAdjust="spacingAndGlyphs" stroke="#1a1a1a" stroke-width="0.30">20</text>
<text x="289.20" y="213.70" font-size="11.60" text-anchor="start" fill="#1a1a1a" textLength="13.60" lengthAdjust="spacingAndGlyphs" stroke="#1a1a1a" stroke-width="0.30">18</text>
<text x="289.20" y="238.20" font-size="11.60" text-anchor="start" fill="#1a1a1a" textLength="13.60" lengthAdjust="spacingAndGlyphs" stroke="#1a1a1a" stroke-width="0.30">16</text>
<text x="289.20" y="262.60" font-size="11.60" text-anchor="start" fill="#1a1a1a" textLength="13.60" lengthAdjust="spacingAndGlyphs" stroke="#1a1a1a" stroke-width="0.30">14</text>
<text x="2.60" y="14.60" font-size="19.40" text-anchor="start" fill="#1a1a1a" textLength="23.00" lengthAdjust="spacingAndGlyphs" stroke="#1a1a1a" stroke-width="0.10">(a)</text>
<text x="36.60" y="22.60" font-size="16.00" text-anchor="start" fill="#1a1a1a" textLength="240.80" lengthAdjust="spacingAndGlyphs" stroke="#1a1a1a" stroke-width="0.20">λ=400nm, 500nm, 600nm, 700nm</text>
<text x="1.50" y="90.30" font-size="19.20" text-anchor="start" fill="#1a1a1a" textLength="47.40" lengthAdjust="spacingAndGlyphs" stroke="#1a1a1a" stroke-width="0.10">log(G)</text>
<text x="-1.00" y="221.90" font-size="19.20" text-anchor="start" fill="#1a1a1a" textLength="47.80" lengthAdjust="spacingAndGlyphs" stroke="#1a1a1a" stroke-width="0.10">log(U)</text>
<text x="327.20" y="17.70" font-size="19.40" text-anchor="start" fill="#1a1a1a" textLength="24.60" lengthAdjust="spacingAndGlyphs" stroke="#1a1a1a" stroke-width="0.10">(b)</text>
<rect x="361.50" y="22.60" width="309.70" height="246.50" fill="none" stroke="#555" stroke-width="1"/>
<path d="M423.14 269.10v-3M423.14 22.60v3M485.08 269.10v-3M485.08 22.60v3M547.02 269.10v-3M547.02 22.60v3M608.96 269.10v-3M608.96 22.60v3M361.50 224.12h3M671.20 224.12h-3M361.50 179.14h3M671.20 179.14h-3M361.50 134.16h3M671.20 134.16h-3M361.50 89.18h3M671.20 89.18h-3M361.50 44.20h3M671.20 44.20h-3" stroke="#555" stroke-width="0.9" fill="none"/>
<path d="M361.50 44.20H421.6" fill="none" stroke="#0000d8" stroke-width="2.9" stroke-dasharray="5.5 4.55"/>
<path d="M421.4 44.20H430.1" fill="none" stroke="#0000d8" stroke-width="2.9"/>
<path d="M436.3 44.20H671.20" fill="none" stroke="#0000d8" stroke-width="2.9" stroke-dasharray="5.4 4.7"/>
<path d="M361.4 249.3 L364.3 237.5 L367.3 225.0 L369.3 212.5 L371.2 200.0 L372.6 187.5 L373.8 175.0 L376.5 163.5 L379.5 154.0 L382.5 147.0 L385.8 140.4 L392.0 136.6 L398.3 133.9 L405.0 133.2 L412.0 132.7 L417.0 131.5 L415.0 132.0 L422.5 129.5 L430.0 125.5 L436.0 122.5 L442.5 118.5 L448.0 116.0 L455.0 113.9 L461.0 112.4 L467.5 110.9 L475.0 109.7 L483.8 108.5 L487.0 107.4 L490.0 105.0 L492.5 102.0 L494.5 99.5 L496.0 98.0 L497.5 97.5 L499.0 98.0 L501.3 100.0 L504.0 103.0 L506.3 105.3 L509.0 107.8 L512.5 108.7 L515.0 108.4 L517.5 107.0 L520.0 104.5 L522.5 101.3 L526.0 95.5 L530.0 90.0 L534.0 86.5 L537.5 85.3 L540.0 84.8 L542.5 84.7 L545.0 85.1 L547.5 85.9 L552.0 88.6 L557.5 92.6 L562.0 96.4 L567.5 101.3 L571.0 104.0 L575.0 106.6 L579.0 108.8 L582.5 110.5 L586.0 111.6 L590.0 112.5 L594.0 113.5 L597.5 114.0 L602.5 114.2 L607.0 115.3 L612.5 116.8 L618.0 118.0 L625.0 119.5 L628.8 120.2 L631.5 121.2 L633.8 123.0 L636.0 126.0 L638.8 130.0 L641.0 134.0 L643.8 140.0 L646.0 146.0 L648.8 155.0 L651.0 163.0 L652.8 170.0 L654.3 178.0 L655.3 185.0 L656.2 193.0 L657.0 202.5 L657.8 212.0 L658.5 225.0 L660.5 240.0 L662.8 252.5 L667.0 260.6 L671.1 268.4" fill="none" stroke="#e60012" stroke-width="2.45" stroke-linejoin="round" stroke-linecap="round"/>
<text x="349.60" y="275.05" font-size="16.00" text-anchor="start" fill="#1a1a1a" textLength="9.20" lengthAdjust="spacingAndGlyphs" stroke="#1a1a1a" stroke-width="0.30">0</text>
<text x="340.40" y="230.07" font-size="16.00" text-anchor="start" fill="#1a1a1a" textLength="18.40" lengthAdjust="spacingAndGlyphs" stroke="#1a1a1a" stroke-width="0.30">20</text>
<text x="340.40" y="185.09" font-size="16.00" text-anchor="start" fill="#1a1a1a" textLength="18.40" lengthAdjust="spacingAndGlyphs" stroke="#1a1a1a" stroke-width="0.30">40</text>
<text x="340.40" y="140.11" font-size="16.00" text-anchor="start" fill="#1a1a1a" textLength="18.40" lengthAdjust="spacingAndGlyphs" stroke="#1a1a1a" stroke-width="0.30">60</text>
<text x="340.40" y="95.13" font-size="16.00" text-anchor="start" fill="#1a1a1a" textLength="18.40" lengthAdjust="spacingAndGlyphs" stroke="#1a1a1a" stroke-width="0.30">80</text>
<text x="331.20" y="50.15" font-size="16.00" text-anchor="start" fill="#1a1a1a" textLength="27.60" lengthAdjust="spacingAndGlyphs" stroke="#1a1a1a" stroke-width="0.30">100</text>
<text x="347.40" y="286.60" font-size="16.00" text-anchor="start" fill="#1a1a1a" textLength="27.40" lengthAdjust="spacingAndGlyphs" stroke="#1a1a1a" stroke-width="0.30">300</text>
<text x="409.34" y="286.60" font-size="16.00" text-anchor="start" fill="#1a1a1a" textLength="27.40" lengthAdjust="spacingAndGlyphs" stroke="#1a1a1a" stroke-width="0.30">400</text>
<text x="471.28" y="286.60" font-size="16.00" text-anchor="start" fill="#1a1a1a" textLength="27.40" lengthAdjust="spacingAndGlyphs" stroke="#1a1a1a" stroke-width="0.30">500</text>
<text x="533.22" y="286.60" font-size="16.00" text-anchor="start" fill="#1a1a1a" textLength="27.40" lengthAdjust="spacingAndGlyphs" stroke="#1a1a1a" stroke-width="0.30">600</text>
<text x="595.16" y="286.60" font-size="16.00" text-anchor="start" fill="#1a1a1a" textLength="27.40" lengthAdjust="spacingAndGlyphs" stroke="#1a1a1a" stroke-width="0.30">700</text>
<text x="657.10" y="286.60" font-size="16.00" text-anchor="start" fill="#1a1a1a" textLength="27.40" lengthAdjust="spacingAndGlyphs" stroke="#1a1a1a" stroke-width="0.30">800</text>
<text x="506.00" y="300.10" font-size="16.40" text-anchor="start" fill="#1a1a1a" textLength="47.00" lengthAdjust="spacingAndGlyphs" stroke="#1a1a1a" stroke-width="0.30"><tspan font-family="Liberation Serif,serif" font-size="18">λ</tspan> (nm)</text>
<text transform="translate(333.6 196.0) rotate(-90)" font-size="15.8" fill="#1a1a1a" stroke="#1a1a1a" stroke-width="0.3" textLength="114.6" lengthAdjust="spacingAndGlyphs">EQE &amp; IQE (%)</text>
<line x1="566.9" y1="203.2" x2="594.8" y2="203.2" stroke="#e60012" stroke-width="3"/>
<text x="598.60" y="209.10" font-size="15.50" text-anchor="start" fill="#1a1a1a" textLength="33.90" lengthAdjust="spacingAndGlyphs" stroke="#1a1a1a" stroke-width="0.30">EQE</text>
<line x1="566.9" y1="227.3" x2="593" y2="227.3" stroke="#0000d8" stroke-width="3" stroke-dasharray="5.2 4.8"/>
<text x="598.60" y="233.90" font-size="15.50" text-anchor="start" fill="#1a1a1a" textLength="27.40" lengthAdjust="spacingAndGlyphs" stroke="#1a1a1a" stroke-width="0.30">IQE</text>
<rect x="430.8" y="171" width="100.1" height="26.9" fill="#b2e9f8"/>
<rect x="430.8" y="197.8" width="100.1" height="7" fill="#fff000"/>
<rect x="430.8" y="204.6" width="100.1" height="2.6" fill="#b45a00"/>
<rect x="430.8" y="207.2" width="100.1" height="33" fill="#00ff00"/>
<rect x="430.8" y="240" width="100.1" height="1.7" fill="#c0603a"/>
<rect x="430.8" y="241.6" width="100.1" height="9" fill="#a0a0a0"/>
<text x="461.30" y="190.30" font-size="19.60" text-anchor="start" fill="#10202a" textLength="38.60" lengthAdjust="spacingAndGlyphs" stroke="#10202a" stroke-width="0.20">glass</text>
<text x="439.20" y="229.10" font-size="18.30" text-anchor="start" fill="#0a300a" textLength="81.80" lengthAdjust="spacingAndGlyphs" stroke="#0a300a" stroke-width="0.20">Perovskite</text>
<text x="430.90" y="188.40" font-size="14.00" text-anchor="middle" fill="#222" stroke="#222" stroke-width="0.50">≈</text>
<text x="530.60" y="188.40" font-size="14.00" text-anchor="middle" fill="#222" stroke="#222" stroke-width="0.50">≈</text>
<path d="M442.30 153.40H447.10V164.50H449.40L444.70 169.30L440.00 164.50H442.30Z" fill="#ff8a8a" stroke="#d8101c" stroke-width="1.5" stroke-linejoin="miter"/>
<path d="M466.80 153.40H471.60V164.50H473.90L469.20 169.30L464.50 164.50H466.80Z" fill="#ffff90" stroke="#ffff30" stroke-width="1.5" stroke-linejoin="miter"/>
<path d="M491.90 153.40H496.70V164.50H499.00L494.30 169.30L489.60 164.50H491.90Z" fill="#8adcff" stroke="#1fa0e0" stroke-width="1.5" stroke-linejoin="miter"/>
<path d="M516.10 153.40H520.90V164.50H523.20L518.50 169.30L513.80 164.50H516.10Z" fill="#d4a8e4" stroke="#7030a0" stroke-width="1.5" stroke-linejoin="miter"/>
<path d="M490.10 136.15L490.10 133.85L494.10 134.65L494.10 135.35ZM488.97 139.51L489.86 137.38L493.24 139.65L492.98 140.30ZM486.65 142.18L488.28 140.55L490.54 143.94L490.04 144.44ZM483.48 143.76L485.61 142.87L486.40 146.88L485.75 147.14ZM479.95 144.00L482.25 144.00L481.45 148.00L480.75 148.00ZM476.59 142.87L478.72 143.76L476.45 147.14L475.80 146.88ZM473.92 140.55L475.55 142.18L472.16 144.44L471.66 143.94ZM472.34 137.38L473.23 139.51L469.22 140.30L468.96 139.65ZM472.10 133.85L472.10 136.15L468.10 135.35L468.10 134.65ZM473.23 130.49L472.34 132.62L468.96 130.35L469.22 129.70ZM475.55 127.82L473.92 129.45L471.66 126.06L472.16 125.56ZM478.72 126.24L476.59 127.13L475.80 123.12L476.45 122.86ZM482.25 126.00L479.95 126.00L480.75 122.00L481.45 122.00ZM485.61 127.13L483.48 126.24L485.75 122.86L486.40 123.12ZM488.28 129.45L486.65 127.82L490.04 125.56L490.54 126.06ZM489.86 132.62L488.97 130.49L492.98 129.70L493.24 130.35Z" fill="url(#ray)" opacity="0.85"/>
<circle cx="481.10" cy="135.00" r="8.1" fill="#fff4c8"/>
<circle cx="481.10" cy="135.00" r="7.3" fill="url(#sun)"/>
</svg>
</body>
</html>
